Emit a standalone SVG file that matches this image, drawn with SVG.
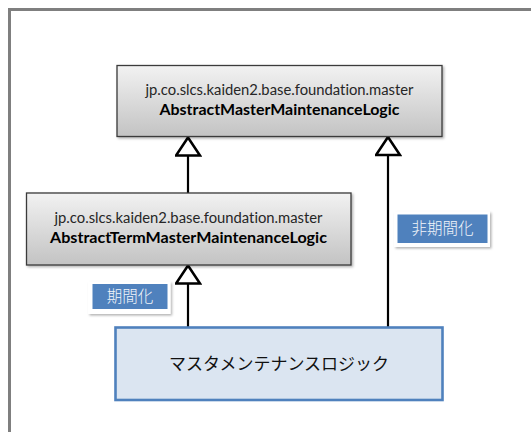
<svg xmlns="http://www.w3.org/2000/svg" width="531" height="432" viewBox="0 0 531 432">
<defs>
<linearGradient id="gGray" x1="0" y1="0" x2="0" y2="1">
<stop offset="0" stop-color="#f2f2f2"/>
<stop offset="1" stop-color="#c3c3c3"/>
</linearGradient>
<filter id="shadow" x="-10%" y="-10%" width="130%" height="140%">
<feDropShadow dx="1.5" dy="1.5" stdDeviation="1.2" flood-color="#000" flood-opacity="0.3"/>
</filter>
<marker id="tri" viewBox="0 0 21 27" refX="19.5" refY="13.5" markerWidth="21" markerHeight="27" markerUnits="userSpaceOnUse" orient="auto">
<path d="M1.5,1.5 L19.5,13.5 L1.5,25.5 Z" fill="#fff" stroke="#000" stroke-width="2.6" stroke-linejoin="miter"/>
</marker>
</defs>
<style>
.cls{fill:url(#gGray);stroke:#3a3a3a;stroke-width:1.3;filter:url(#shadow)}
.pkg{font-family:Lato,"Liberation Sans",sans-serif;font-size:14.5px;fill:#262626;text-anchor:middle;font-variant-ligatures:none}
.nm{font-family:Lato,"Liberation Sans",sans-serif;font-size:14.5px;font-weight:bold;fill:#000;text-anchor:middle;font-variant-ligatures:none}
.conn{stroke:#000;stroke-width:2.2;fill:none;marker-end:url(#tri)}
.lblbg{fill:#fff;filter:url(#shadow)}
.lbl{fill:#4f81bd}
.lbltxt{font-family:"Noto Sans CJK JP",sans-serif;font-size:15.5px;font-weight:300;fill:#f2f5fa;text-anchor:middle}
.logic{fill:#dbe5f1;stroke:#4f81bd;stroke-width:2.6}
.logictxt{font-family:"Noto Sans CJK JP",sans-serif;font-size:17px;fill:#111;text-anchor:middle}
</style>
<rect width="531" height="432" fill="#fff"/>
<path d="M9.5,432 V9.5 H531" fill="none" stroke="#7f7f7f" stroke-width="3"/>
<g id="connectors">
<line class="conn" x1="188" y1="193" x2="188" y2="137.5"/>
<line class="conn" x1="188" y1="327.5" x2="188" y2="265.5"/>
<line class="conn" x1="388" y1="327.5" x2="388" y2="137"/>
</g>
<g id="abstractMaster">
<rect class="cls" x="117" y="65.5" width="325" height="71"/>
<text class="pkg" x="279.5" y="95" textLength="268" lengthAdjust="spacingAndGlyphs">jp.co.slcs.kaiden2.base.foundation.master</text>
<text class="nm" x="279.5" y="115" textLength="240" lengthAdjust="spacingAndGlyphs">AbstractMasterMaintenanceLogic</text>
</g>
<g id="abstractTermMaster">
<rect class="cls" x="26.5" y="193" width="324.5" height="72"/>
<text class="pkg" x="188.5" y="223" textLength="268" lengthAdjust="spacingAndGlyphs">jp.co.slcs.kaiden2.base.foundation.master</text>
<text class="nm" x="188.5" y="243" textLength="277" lengthAdjust="spacingAndGlyphs">AbstractTermMasterMaintenanceLogic</text>
</g>
<g id="labelTerm">
<rect class="lblbg" x="88" y="281.5" width="82.5" height="32.5"/>
<rect class="lbl" x="92.5" y="284" width="75" height="25"/>
<text class="lbltxt" x="130" y="302">期間化</text>
</g>
<g id="labelNonTerm">
<rect class="lblbg" x="394" y="211.5" width="96" height="35.5"/>
<rect class="lbl" x="397.5" y="214.5" width="90" height="28.5"/>
<text class="lbltxt" x="442.5" y="234">非期間化</text>
</g>
<g id="masterLogic">
<rect class="logic" x="115.5" y="327.5" width="327" height="72.5"/>
<text class="logictxt" x="279" y="370">マスタメンテナンスロジック</text>
</g>
</svg>
